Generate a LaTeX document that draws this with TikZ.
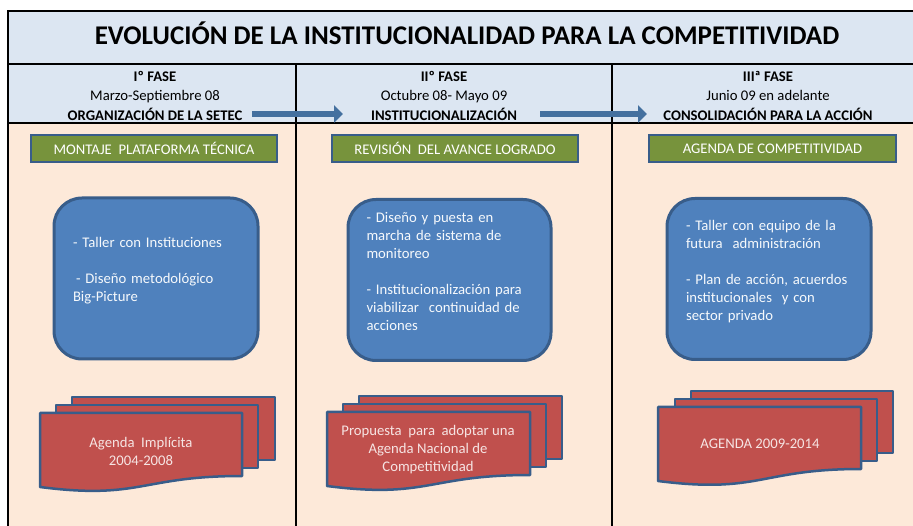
\documentclass[tikz,border=0pt]{standalone}
\usepackage{fontspec}
\setmainfont{Carlito}
\usepackage{xcolor}
\usetikzlibrary{positioning,fit,arrows.meta}

\definecolor{cabecera}{HTML}{DCE6F2}
\definecolor{fondo}{HTML}{FDE9D9}
\definecolor{verde}{HTML}{77933C}
\definecolor{azul}{HTML}{4F81BD}
\definecolor{borde}{HTML}{385D8A}
\definecolor{flecha}{HTML}{44709F}
\definecolor{rojo}{HTML}{C0504D}
\definecolor{rosa}{HTML}{F6E4E3}

\begin{document}
\begin{tikzpicture}[x=1pt,y=-1pt,arrow/.style = {line width=6pt,draw=flecha,-{Triangle[length=9pt,width=17pt]}}]
				\tikzset{marco/.style={draw=black,line width=2.5pt}}
				\tikzset{fase/.style={anchor=north,align=center,inner sep=0pt,font=\fontsize{14.7}{19.5}\selectfont}}
				\tikzset{bar/.style={draw=borde,line width=2.5pt,fill=verde,inner sep=0pt,minimum width=246pt,minimum height=27pt,text=white,font=\fontsize{14.7}{18}\selectfont}}
				\tikzset{caja/.style={draw=borde,line width=3pt,fill=azul,rounded corners=28pt,inner sep=0pt,minimum width=204pt,minimum height=161pt,text width=166pt,align=left,text=white!95!azul,font=\fontsize{14.7}{18}\selectfont}}
				\tikzset{hoja/.style={draw=borde,line width=2.5pt,fill=rojo,line join=round}}
				\tikzset{textohoja/.style={align=center,inner sep=0pt,text=rosa,font=\fontsize{14.7}{18}\selectfont}}

				\useasboundingbox (0,0) rectangle (913,526);
				\fill[white] (0,0) rectangle (913,526);

				% Fondo
				\fill[cabecera] (8,11) rectangle (913,123);
				\fill[fondo] (8,123) rectangle (913,526);
				\draw[marco] (8,526) -- (8,11) -- (913,11);
				\draw[marco] (8,64) -- (913,64);
				\draw[marco] (8,123) -- (913,123);
				\draw[marco] (296,64) -- (296,526);
				\draw[marco] (612,64) -- (612,526);

				\node[font=\bfseries\fontsize{27}{31}\selectfont, anchor=base] (titulo) at (467,45) {EVOLUCIÓN DE LA INSTITUCIONALIDAD PARA LA COMPETITIVIDAD};

				% Fases
				\node[fase] (fase1) at (155,71) {\textbf{Iº FASE}\\Marzo-Septiembre 08\\\textbf{ORGANIZACIÓN DE LA SETEC}};
				\node[fase] (fase2) at (444,71) {\textbf{IIº FASE}\\Octubre 08- Mayo 09\\\textbf{INSTITUCIONALIZACIÓN}};
				\node[fase] (fase3) at (768,71) {\textbf{IIIª FASE}\\Junio 09 en adelante\\\textbf{CONSOLIDACIÓN PARA LA ACCIÓN}};

				\coordinate (a1) at (252,114);
				\coordinate (b1) at (343,114);
				\coordinate (a2) at (540,114);
				\coordinate (b2) at (647,114);
				\draw [arrow] (a1) -- (b1);
				\draw [arrow] (a2) -- (b2);

				% Barras
				\node[bar] (montaje) at (154,148.5) {MONTAJE\ \ PLATAFORMA TÉCNICA};
				\node[bar] (revision) at (455,148.5) {REVISIÓN\ \ DEL AVANCE LOGRADO};
				\node[bar, minimum width=247pt] (agenda) at (772.5,148.5) {AGENDA DE COMPETITIVIDAD};

				% Cajas
				\node[caja] (caja1) at (156,278.5) {- Taller con Instituciones\\[18pt]\hspace*{3pt}- Diseño metodológico\\Big-Picture\\\mbox{}};
				\node[caja, minimum width=203pt] (caja2) at (449.5,280) {- Diseño y puesta en\\marcha de sistema de\\monitoreo\\[18pt]- Institucionalización para\\viabilizar\ \ continuidad de\\acciones\\\mbox{}};
				\node[caja] (caja3) at (769,279) {- Taller con equipo de la\\futura\ \ administración\\[18pt]- Plan de acción, acuerdos\\institucionales\ \ y con\\sector privado\\\mbox{}};

				% Documentos
				\draw[hoja] (72,397) rectangle (275,460);
				\draw[hoja] (56,405) rectangle (258,468);
				\draw[hoja] (40,413) -- (242,413) -- (242,476) .. controls (141,476) and (141,500) .. (40,487) -- cycle;
				\node[textohoja] (doc1) at (141,451) {Agenda\ \ Implícita\\2004-2008};

				\draw[hoja] (359,396) rectangle (562,459);
				\draw[hoja] (343,404) rectangle (546,467);
				\draw[hoja] (327,412) -- (530,412) -- (530,475) .. controls (428,475) and (428,499) .. (327,486) -- cycle;
				\node[textohoja] (doc2) at (428,450) {Propuesta\ \ para\ \ adoptar una\\Agenda Nacional de\\Competitividad};

				\draw[hoja] (691,391) rectangle (893,453);
				\draw[hoja] (675,399) rectangle (877,461);
				\draw[hoja] (658,407) -- (861,407) -- (861,469) .. controls (760,469) and (760,494) .. (658,481) -- cycle;
				\node[textohoja] (doc3) at (760,444) {AGENDA 2009-2014};

			\end{tikzpicture}
\end{document}
